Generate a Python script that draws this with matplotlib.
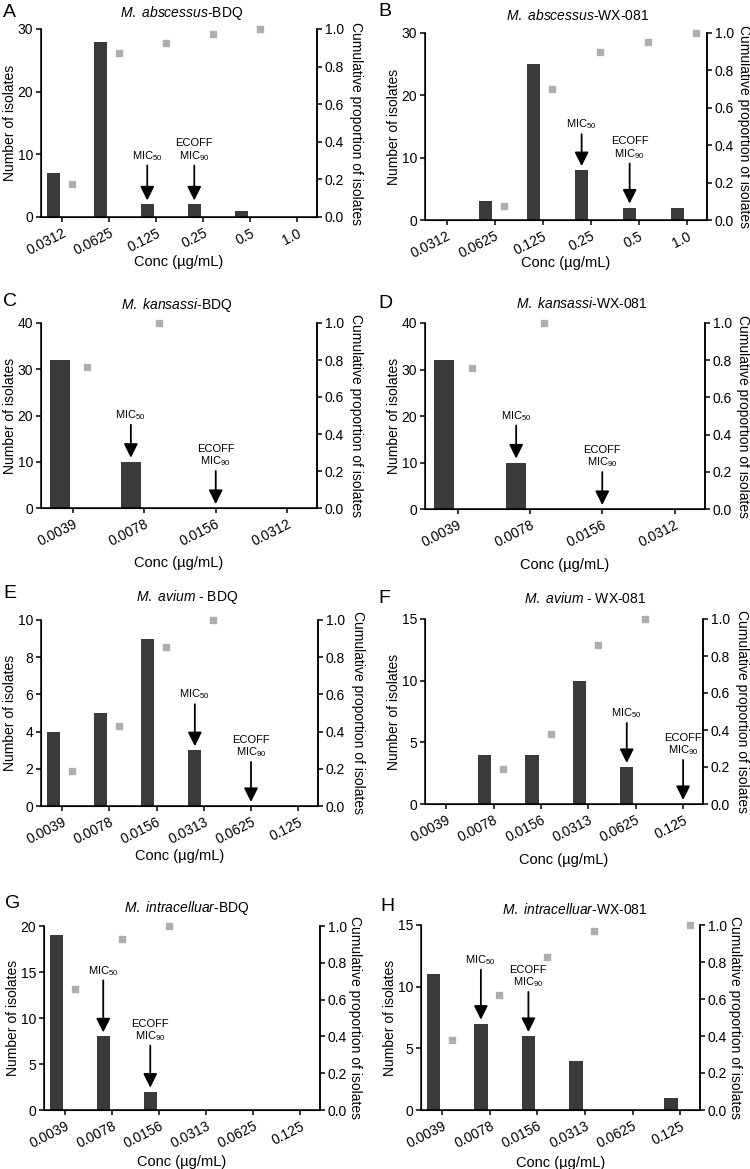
import matplotlib
matplotlib.use("Agg")
import matplotlib.pyplot as plt
from matplotlib.ticker import FormatStrFormatter

plt.rcParams["font.family"] = ["Liberation Sans", "DejaVu Sans"]
plt.rcParams["mathtext.fontset"] = "custom"
plt.rcParams["mathtext.rm"] = "Liberation Sans"
plt.rcParams["mathtext.it"] = "Liberation Sans:italic"
plt.rcParams["mathtext.bf"] = "Liberation Sans:bold"

# ---- data ----
conc_abs = ["0.0312", "0.0625", "0.125", "0.25", "0.5", "1.0"]
conc_kan = ["0.0039", "0.0078", "0.0156", "0.0312"]
conc_mac = ["0.0039", "0.0078", "0.0156", "0.0313", "0.0625", "0.125"]

titles = [
    r"$\mathit{M.\ abscessus}$-BDQ", r"$\mathit{M.\ abscessus}$-WX-081",
    r"$\mathit{M.\ kansassi}$-BDQ", r"$\mathit{M.\ kansassi}$-WX-081",
    r"$\mathit{M.\ avium}$ - BDQ", r"$\mathit{M.\ avium}$ - WX-081",
    r"$\mathit{M.\ intracelluar}$-BDQ", r"$\mathit{M.\ intracelluar}$-WX-081",
]
letters = ["A", "B", "C", "D", "E", "F", "G", "H"]

counts_A = [7, 28, 2, 2, 1, 0]
counts_B = [0, 3, 25, 8, 2, 2]
counts_C = [32, 10, 0, 0]
counts_D = [32, 10, 0, 0]
counts_E = [4, 5, 9, 3, 0, 0]
counts_F = [0, 4, 4, 10, 3, 0]
counts_G = [19, 8, 2, 0, 0, 0]
counts_H = [11, 7, 6, 4, 0, 1]

cum_A = [0.175, 0.875, 0.925, 0.975, 1.0, None]
cum_B = [None, 0.075, 0.70, 0.90, 0.95, 1.0]
cum_C = [0.76, 1.0, None, None]
cum_D = [0.76, 1.0, None, None]
cum_E = [0.19, 0.43, 0.857, 1.0, None, None]
cum_F = [None, 0.19, 0.38, 0.857, 1.0, None]
cum_G = [0.655, 0.931, 1.0, None, None, None]
cum_H = [0.379, 0.621, 0.828, 0.966, None, 1.0]

ymax = [30, 30, 40, 40, 10, 15, 20, 15]
ystep = [10, 10, 10, 10, 2, 5, 5, 5]
mic50_idx = [2, 3, 1, 1, 3, 4, 1, 1]
ecoff_idx = [3, 4, 2, 2, 4, 5, 2, 2]

panels = [
    (conc_abs, counts_A, cum_A), (conc_abs, counts_B, cum_B),
    (conc_kan, counts_C, cum_C), (conc_kan, counts_D, cum_D),
    (conc_mac, counts_E, cum_E), (conc_mac, counts_F, cum_F),
    (conc_mac, counts_G, cum_G), (conc_mac, counts_H, cum_H),
]

# ---- layout in pixels (left, top, right, bottom), etc. ----
boxes = [(41, 29, 317, 217), (425, 33, 707, 220),
         (41, 323, 317, 508), (425, 323, 705, 509),
         (41, 620, 318, 806), (425, 619, 703, 804),
         (44, 926, 320, 1110), (421, 925, 700, 1110)]
title_pos = [(182, 13), (578, 15), (177, 305), (582, 303),
             (187, 597), (585, 598), (187, 908), (575, 910)]
letter_pos = [(3, 4), (378, 3), (3, 293), (378, 295),
              (3, 585), (378, 590), (5, 895), (380, 898)]
xlab_off = [45, 43, 55, 56, 50, 56, 52, 53]
rlab_off = [39, 37, 39, 38, 40, 39, 35, 35]
arrow_len = [(35, 35), (32, 40), (33, 33), (33, 33),
             (42, 40), (40, 40), (52, 42), (50, 40)]

W, H = 750, 1169
fig = plt.figure(figsize=(W / 100, H / 100), dpi=100)

bar_color = "#3a3a3a"
sq_color = "#aeaeae"
PX = 0.72  # points per pixel at 100 dpi


def draw_arrow(ax, x, val, length_px, label):
    gap = 4 * PX
    ax.annotate("", xy=(x, val), xytext=(0, length_px * PX + gap),
                textcoords="offset points",
                arrowprops=dict(arrowstyle="-|>,head_length=0.6,head_width=0.3",
                                mutation_scale=14, lw=1.3, color="black",
                                shrinkA=0, shrinkB=gap))
    ax.annotate(label, xy=(x, val), xytext=(0, length_px * PX + gap + 2),
                textcoords="offset points", ha="center", va="bottom",
                multialignment="center", fontsize=8, linespacing=1.05)


for i, (cats, counts, cum) in enumerate(panels):
    L, T, R, B = boxes[i]
    ax = fig.add_axes([L / W, 1 - B / H, (R - L) / W, (B - T) / H])
    n = len(cats)
    pos = list(range(n))

    ax.bar([p - 0.19 for p in pos], counts, width=0.28, color=bar_color, zorder=2)
    ax.set_xlim(-0.45, n - 1 + 0.42)
    ax.set_ylim(0, ymax[i])
    ax.set_yticks(list(range(0, ymax[i] + 1, ystep[i])))
    ax.set_xticks(pos)
    ax.set_xticklabels(cats, rotation=27, ha="right", rotation_mode="anchor",
                       fontsize=10)
    ax.tick_params(axis="y", labelsize=10, length=3.5, width=1.1, pad=2)
    ax.tick_params(axis="x", length=3.5, width=1.1, pad=3)
    ax.spines["top"].set_visible(False)
    for s in ["left", "bottom", "right"]:
        ax.spines[s].set_linewidth(1.1)

    ax.set_ylabel("Number of isolates", fontsize=10, va="center")
    ax.yaxis.set_label_coords(-31 / (R - L), 0.5)
    ax.set_xlabel("Conc (µg/mL)", fontsize=10.5, va="center")
    ax.xaxis.set_label_coords(0.5, -xlab_off[i] / (B - T))

    ax2 = ax.twinx()
    ax2.set_ylim(0, 1)
    ax2.set_yticks([0, 0.2, 0.4, 0.6, 0.8, 1.0])
    ax2.yaxis.set_major_formatter(FormatStrFormatter("%.1f"))
    ax2.tick_params(axis="y", labelsize=10, length=3.5, width=1.1, pad=2)
    ax2.spines["top"].set_visible(False)
    ax2.spines["right"].set_linewidth(1.1)
    cx = [p + 0.2 for p, c in zip(pos, cum) if c is not None]
    cy = [c for c in cum if c is not None]
    ax2.plot(cx, cy, "s", color=sq_color, markersize=4.5, clip_on=False, zorder=3)
    ax2.set_ylabel("Cumulative proportion of isolates", fontsize=10,
                   rotation=270, va="center", ha="center")
    ax2.yaxis.set_label_coords(1 + rlab_off[i] / (R - L), 0.5)

    # annotation arrows
    for idx, lab, ln in [(mic50_idx[i], "MIC$_{50}$", arrow_len[i][0]),
                         (ecoff_idx[i], "ECOFF\nMIC$_{90}$", arrow_len[i][1])]:
        x = idx - 0.19 if counts[idx] > 0 else idx
        draw_arrow(ax, x, counts[idx], ln, lab)

    tx, ty = title_pos[i]
    fig.text(tx / W, 1 - ty / H, titles[i], ha="center", va="center", fontsize=10)
    lx, ly = letter_pos[i]
    fig.text(lx / W, 1 - ly / H, letters[i], ha="left", va="top", fontsize=14)

fig.savefig("out.png", dpi=100)
